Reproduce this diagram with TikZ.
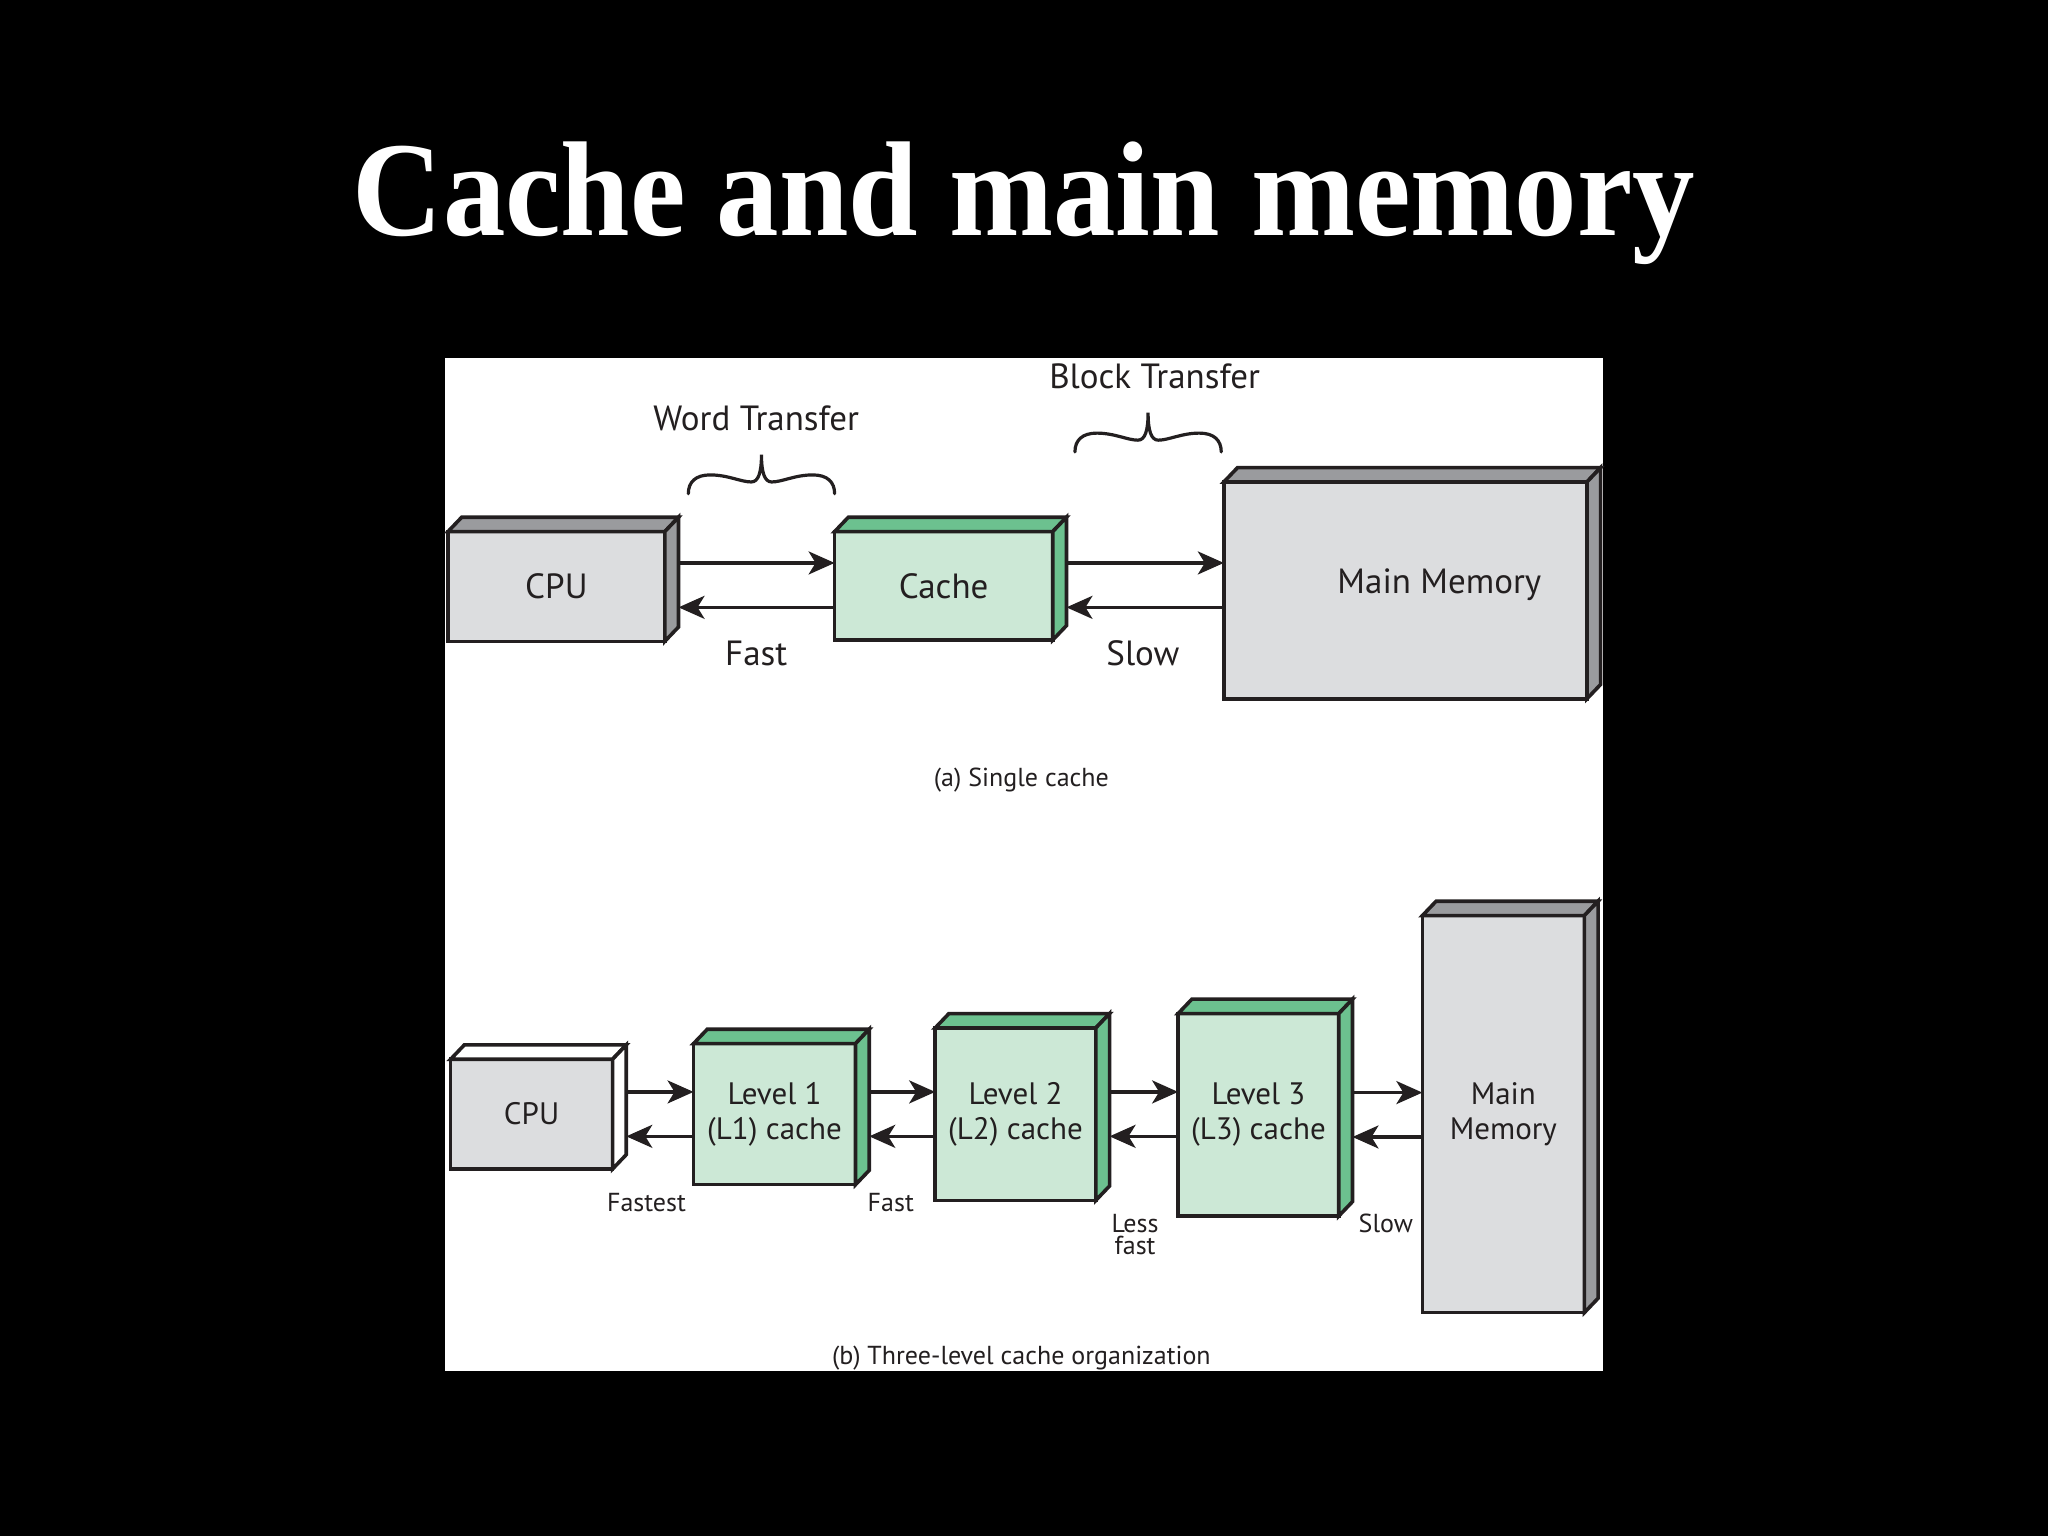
\documentclass[tikz,border=0pt]{standalone}
\usepackage{fontspec}
\setmainfont{PT Sans}
\newfontfamily\titlefont{Liberation Serif}
\usetikzlibrary{arrows.meta,calc}
\definecolor{txt}{HTML}{231F20}
\definecolor{gfront}{HTML}{DCDDDF}
\definecolor{gside}{HTML}{9A9B9E}
\definecolor{cfront}{HTML}{CCE8D6}
\definecolor{cside}{HTML}{6CC18F}
\newcommand\dX{10.5}
\newcommand\dY{-11}
\newcommand\sidefaces[3]{% name, side colour, top colour
  \draw[edge, fill=#3] (#1.north west) -- ($(#1.north west)+(\dX,\dY)$) -- ($(#1.north east)+(\dX,\dY)$) -- (#1.north east) -- cycle;
  \draw[edge, fill=#2] (#1.north east) -- ($(#1.north east)+(\dX,\dY)$) -- ($(#1.south east)+(\dX,\dY)$) -- (#1.south east) -- cycle;}
\newcommand\curlybrace[4]{% L R ytop ybottom
  \pgfmathsetmacro\bL{#1}\pgfmathsetmacro\bW{#2-#1}%
  \pgfmathsetmacro\bT{#3}\pgfmathsetmacro\bH{#4-#3}%
  \draw[bracestyle]
    ({\bL},{\bT+\bH})
    .. controls ({\bL},{\bT+0.7*\bH}) and ({\bL+0.05*\bW},{\bT+0.52*\bH}) .. ({\bL+0.15*\bW},{\bT+0.52*\bH})
    .. controls ({\bL+0.27*\bW},{\bT+0.52*\bH}) and ({\bL+0.36*\bW},{\bT+0.7*\bH}) .. ({\bL+0.43*\bW},{\bT+0.7*\bH})
    .. controls ({\bL+0.48*\bW},{\bT+0.7*\bH}) and ({\bL+0.5*\bW},{\bT+0.45*\bH}) .. ({\bL+0.5*\bW},{\bT})
    .. controls ({\bL+0.5*\bW},{\bT+0.45*\bH}) and ({\bL+0.52*\bW},{\bT+0.7*\bH}) .. ({\bL+0.57*\bW},{\bT+0.7*\bH})
    .. controls ({\bL+0.64*\bW},{\bT+0.7*\bH}) and ({\bL+0.73*\bW},{\bT+0.52*\bH}) .. ({\bL+0.85*\bW},{\bT+0.52*\bH})
    .. controls ({\bL+0.95*\bW},{\bT+0.52*\bH}) and ({\bL+\bW},{\bT+0.7*\bH}) .. ({\bL+\bW},{\bT+\bH});}
\begin{document}
\begin{tikzpicture}[x=1.3061pt,y=-1.3061pt,
  edge/.style={draw=txt, line width=3.6pt, line join=miter},
  front/.style={edge, rectangle, inner sep=0pt, outer sep=0pt, text=txt, align=center},
  big/.style={font=\fontsize{35}{42}\selectfont},
  mid/.style={font=\fontsize{31}{35}\selectfont},
  small/.style={font=\fontsize{26}{22}\selectfont},
  lab/.style={text=txt, inner sep=0pt, align=center},
  arr/.style={draw=txt, line width=3.2pt, -{Stealth[length=26pt,width=23pt,inset=7pt]}},
  bracestyle/.style={draw=txt, line width=3.2pt, line cap=round}]
\useasboundingbox (0,0) rectangle (1568,1176);
\fill[black] (0,0) rectangle (1568,1176);
\fill[white] (341,274) rectangle (1227,1050);

\node[anchor=base, text=white, inner sep=0pt, font=\titlefont\bfseries\fontsize{135}{140}\selectfont] (title) at (784,180) {\scalebox{0.925}[1]{Cache and main memory}};

% (a) single cache
\node[front, big, fill=gfront, minimum width={166*1.3061pt}, minimum height={84*1.3061pt}] (cpuA) at (426,449) {CPU};
\node[front, big, fill=cfront, minimum width={167*1.3061pt}, minimum height={83*1.3061pt}] (cacheA) at (722.5,448.5) {Cache};
\node[front, fill=gfront, minimum width={278*1.3061pt}, minimum height={166*1.3061pt}] (mmA) at (1076,452) {};
\sidefaces{cpuA}{gside}{gside}
\sidefaces{cacheA}{cside}{cside}
\sidefaces{mmA}{gside}{gside}
\node[lab, big] (mmAlabel) at (1102,448) {Main Memory};

\path ($(cpuA.east)+(\dX,-18)$) coordinate (a1);
\draw[arr] (a1) -- (a1 -| cacheA.west);
\path ($(cpuA.east)+(\dX,16)$) coordinate (a2);
\draw[arr] (a2 -| cacheA.west) -- (a2);
\path ($(cacheA.east)+(\dX,-17.5)$) coordinate (a3);
\draw[arr] (a3) -- (a3 -| mmA.west);
\path ($(cacheA.east)+(\dX,16.5)$) coordinate (a4);
\draw[arr] (a4 -| mmA.west) -- (a4);

\curlybrace{527}{639}{348}{378}
\curlybrace{823}{935}{316}{346}
\node[lab, big] (word) at (579,320) {Word Transfer};
\node[lab, big] (block) at (884,288) {Block Transfer};
\node[lab, big] (fastA) at (579,500) {Fast};
\node[lab, big] (slowA) at (875,500) {Slow};
\node[lab, small] (capA) at (782,597) {(a) Single cache};

% (b) three-level cache
\node[front, mid, fill=gfront, minimum width={124*1.3061pt}, minimum height={84*1.3061pt}] (cpuB) at (407,853) {CPU};
\node[front, mid, fill=cfront, minimum width={124*1.3061pt}, minimum height={108*1.3061pt}] (l1) at (593,853) {Level 1\\(L1) cache};
\node[front, mid, fill=cfront, minimum width={123*1.3061pt}, minimum height={132*1.3061pt}] (l2) at (777.5,853) {Level 2\\(L2) cache};
\node[front, mid, fill=cfront, minimum width={123*1.3061pt}, minimum height={155*1.3061pt}] (l3) at (963.5,853.5) {Level 3\\(L3) cache};
\node[front, mid, fill=gfront, minimum width={124*1.3061pt}, minimum height={304*1.3061pt}] (mmB) at (1151,853) {Main\\Memory};
\sidefaces{cpuB}{white}{white}
\sidefaces{l1}{cside}{cside}
\sidefaces{l2}{cside}{cside}
\sidefaces{l3}{cside}{cside}
\sidefaces{mmB}{gside}{gside}

\foreach \a/\b in {cpuB/l1, l1/l2, l2/l3, l3/mmB}{
  \path ($(\a.east)+(\dX,-17)$) coordinate (p);
  \draw[arr] (p) -- (p -| \b.west);
  \path ($(\a.east)+(\dX,17)$) coordinate (q);
  \draw[arr] (q -| \b.west) -- (q);
}

\node[lab, small] (fastest) at (495,921) {Fastest};
\node[lab, small] (fastB) at (682,921) {Fast};
\node[lab, small] (lessfast) at (869,945) {Less\\fast};
\node[lab, small] (slowB) at (1061,937) {Slow};
\node[lab, small] (capB) at (782,1040) {(b) Three-level cache organization};
\end{tikzpicture}
\end{document}
